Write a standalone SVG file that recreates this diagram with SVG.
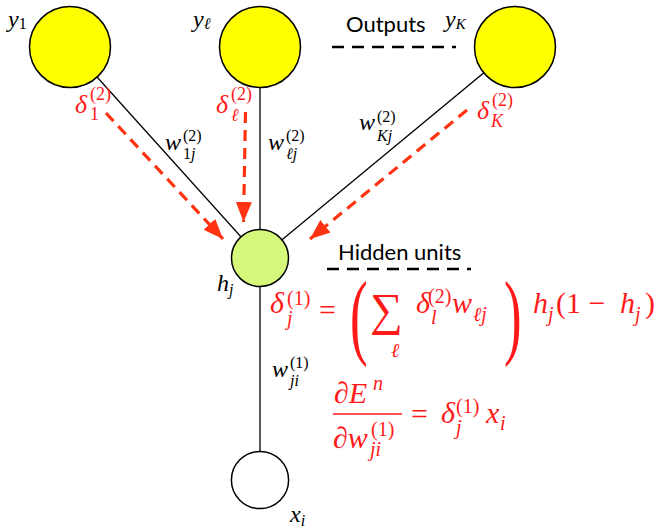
<svg xmlns="http://www.w3.org/2000/svg" width="661" height="528" viewBox="0 0 661 528">
<style>
.edge{stroke:#000;stroke-width:1.3;fill:none}
.grad{stroke:#ff3311;stroke-width:3.2;stroke-dasharray:11 7;fill:none}
.sep{stroke:#000;stroke-width:2.6;stroke-dasharray:12 8;fill:none}
.node{stroke:#000;stroke-width:1.5}
.red{fill:#ff1a1a}
</style>
<defs>
<marker id="ah" markerUnits="userSpaceOnUse" markerWidth="22" markerHeight="18" refX="20" refY="8" orient="auto">
<path d="M0,0 L20,8 L0,16 Z" fill="#ff3311"/>
</marker>
</defs>
<g id="connectors">
<line class="edge" x1="70" y1="47" x2="260" y2="258"/>
<line class="edge" x1="260" y1="47" x2="260" y2="258"/>
<line class="edge" x1="515" y1="47" x2="260" y2="258"/>
<line class="edge" x1="260" y1="258" x2="260" y2="480"/>
<line class="grad" x1="106" y1="113" x2="223" y2="239" marker-end="url(#ah)"/>
<line class="grad" x1="245.5" y1="112" x2="243.5" y2="222" marker-end="url(#ah)"/>
<line class="grad" x1="467" y1="110" x2="310" y2="239" marker-end="url(#ah)"/>
</g>
<g id="y1"><circle class="node" cx="70" cy="47" r="40.5" fill="#ffff00"/>
<text font-family="serif" font-style="italic" x="8" y="27" font-size="24">y<tspan font-style="normal" font-size="16" dy="2">1</tspan></text></g>
<g id="yl"><circle class="node" cx="260" cy="47" r="40.5" fill="#ffff00"/>
<text font-family="serif" font-style="italic" x="193" y="27" font-size="24">y<tspan font-size="16" dy="2">ℓ</tspan></text></g>
<g id="yK"><circle class="node" cx="515" cy="47" r="40.5" fill="#ffff00"/>
<text font-family="serif" font-style="italic" x="445" y="27" font-size="24">y<tspan font-size="15" dy="2">K</tspan></text></g>
<g id="hj"><circle class="node" cx="260" cy="258" r="28.5" fill="#d5f77a"/>
<text font-family="serif" font-style="italic" x="217" y="291" font-size="24">h<tspan font-size="16" dy="4">j</tspan></text></g>
<g id="xi"><circle class="node" cx="260" cy="480" r="28.6" fill="#fff"/>
<text font-family="serif" font-style="italic" x="290" y="522" font-size="24">x<tspan font-size="16" dy="4">i</tspan></text></g>
<g id="outputs">
<text font-family="Lato, sans-serif" font-size="22" x="346" y="32">Outputs</text>
<line class="sep" x1="332" y1="47" x2="456" y2="47"/>
</g>
<g id="hidden">
<text font-family="Lato, sans-serif" font-size="22" x="338" y="260">Hidden units</text>
<line class="sep" x1="327" y1="269" x2="471" y2="269"/>
</g>
<g id="weights">
<text font-family="serif" font-style="italic" x="165" y="150" font-size="24">w</text><text font-family="serif" x="183" y="141" font-size="16">(2)</text><text font-family="serif" font-style="italic" x="183" y="159" font-size="16"><tspan font-style="normal">1</tspan>j</text>
<text font-family="serif" font-style="italic" x="268" y="150" font-size="24">w</text><text font-family="serif" x="286" y="141" font-size="16">(2)</text><text font-family="serif" font-style="italic" x="286" y="159" font-size="16">ℓj</text>
<text font-family="serif" font-style="italic" x="359" y="130" font-size="24">w</text><text font-family="serif" x="377" y="122" font-size="16">(2)</text><text font-family="serif" font-style="italic" x="377" y="141" font-size="16">Kj</text>
<text font-family="serif" font-style="italic" x="272" y="377" font-size="24">w</text><text font-family="serif" x="290" y="368" font-size="16">(1)</text><text font-family="serif" font-style="italic" x="290" y="386" font-size="16">ji</text>
</g>
<g id="deltas">
<text class="red" font-family="serif" font-style="italic" x="75" y="113" font-size="26">δ</text><text class="red" font-family="serif" x="90" y="100" font-size="18">(2)</text><text class="red" font-family="serif" x="90" y="120" font-size="18">1</text>
<text class="red" font-family="serif" font-style="italic" x="216" y="113" font-size="26">δ</text><text class="red" font-family="serif" x="231" y="100" font-size="18">(2)</text><text class="red" font-family="serif" font-style="italic" x="231" y="121" font-size="18">ℓ</text>
<text class="red" font-family="serif" font-style="italic" x="477" y="119" font-size="26">δ</text><text class="red" font-family="serif" x="492" y="106" font-size="18">(2)</text><text class="red" font-family="serif" font-style="italic" x="491" y="127" font-size="18">K</text>
</g>
<g id="eq1">
<text class="red" font-family="serif" font-style="italic" x="270" y="313" font-size="30">δ</text>
<text class="red" font-family="serif" x="287" y="305" font-size="20">(1)</text>
<text class="red" font-family="serif" font-style="italic" x="287" y="325" font-size="20">j</text>
<text class="red" font-family="serif" x="319" y="320" font-size="30">=</text>
<text class="red" font-family="serif" x="350" y="347" font-size="96" transform="translate(350 347) scale(0.55 1) translate(-350 -347)">(</text>
<text class="red" font-family="serif" x="370" y="325" font-size="46">∑</text>
<text class="red" font-family="serif" font-style="italic" x="391" y="357" font-size="20">ℓ</text>
<text class="red" font-family="serif" font-style="italic" x="416" y="313" font-size="30">δ</text>
<text class="red" font-family="serif" x="428" y="303" font-size="20">(2)</text>
<text class="red" font-family="serif" font-style="italic" x="431" y="324" font-size="20">l</text>
<text class="red" font-family="serif" font-style="italic" x="452" y="313" font-size="30">w</text>
<text class="red" font-family="serif" font-style="italic" x="473" y="321" font-size="20">ℓj</text>
<text class="red" font-family="serif" x="504" y="347" font-size="96" transform="translate(504 347) scale(0.55 1) translate(-504 -347)">)</text>
<text class="red" font-family="serif" font-style="italic" x="533" y="313" font-size="30">h</text>
<text class="red" font-family="serif" font-style="italic" x="548" y="321" font-size="20">j</text>
<text class="red" font-family="serif" x="556" y="313" font-size="30">(1 −</text>
<text class="red" font-family="serif" font-style="italic" x="620" y="313" font-size="30">h</text>
<text class="red" font-family="serif" font-style="italic" x="635" y="321" font-size="20">j</text>
<text class="red" font-family="serif" x="645" y="313" font-size="30">)</text>
</g>
<g id="eq2">
<text class="red" font-family="serif" x="334" y="403" font-size="30">∂<tspan font-style="italic">E</tspan></text>
<text class="red" font-family="serif" font-style="italic" x="373" y="390" font-size="20">n</text>
<line x1="333" y1="414" x2="402" y2="414" stroke="#ff1a1a" stroke-width="1.5"/>
<text class="red" font-family="serif" x="333" y="448" font-size="30">∂<tspan font-style="italic">w</tspan></text>
<text class="red" font-family="serif" x="371" y="436" font-size="20">(1)</text>
<text class="red" font-family="serif" font-style="italic" x="370" y="456" font-size="20">ji</text>
<text class="red" font-family="serif" x="411" y="424" font-size="30">=</text>
<text class="red" font-family="serif" font-style="italic" x="441" y="423" font-size="30">δ</text>
<text class="red" font-family="serif" x="456" y="413" font-size="20">(1)</text>
<text class="red" font-family="serif" font-style="italic" x="456" y="434" font-size="20">j</text>
<text class="red" font-family="serif" font-style="italic" x="486" y="423" font-size="30">x</text>
<text class="red" font-family="serif" font-style="italic" x="500" y="430" font-size="20">i</text>
</g>
</svg>
